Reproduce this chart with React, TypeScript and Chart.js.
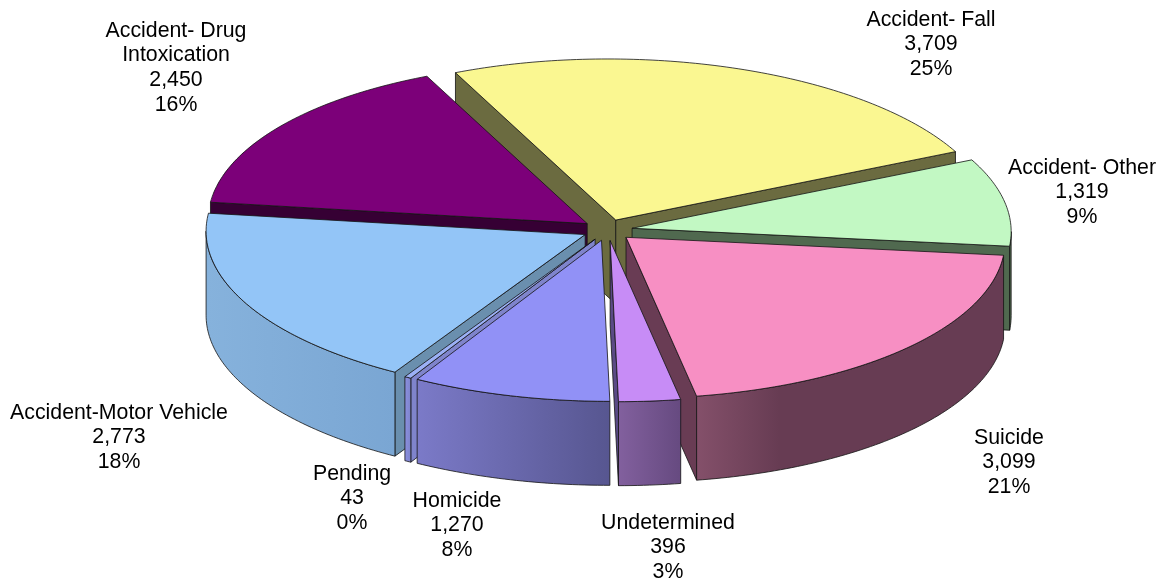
import React, { useEffect, useRef } from "react";
import { Chart, registerables } from "chart.js";

Chart.register(...registerables);

const categories = [
  "Accident- Fall",
  "Accident- Other",
  "Suicide",
  "Undetermined",
  "Homicide",
  "Pending",
  "Accident-Motor Vehicle",
  "Accident- Drug|Intoxication",
];
const values = [3709, 1319, 3099, 396, 1270, 43, 2773, 2450];
const valueLabels = ["3,709", "1,319", "3,099", "396", "1,270", "43", "2,773", "2,450"];
const percentLabels = ["25%", "9%", "21%", "3%", "8%", "0%", "18%", "16%"];

const topColors = ["#FAF791", "#C2F8C3", "#F78FC3", "#C78CF6", "#9191F6", "#9BB0F6", "#93C5F7", "#7C0079"];
const radialColors = ["#6B6B40", "#50694F", "#693C54", "#5A4A85", "#6C6FB0", "#7F84CC", "#6A8FAE", "#360034"];
const wallLeft = ["#8A8A50", "#50694F", "#84506A", "#82609E", "#7B7AC8", "#8A8FE0", "#86B2DC", "#500050"];
const wallRight = ["#6B6B40", "#50694F", "#673C53", "#664A80", "#575690", "#7F84CC", "#7AA6D3", "#360034"];
const wallStop = [1, 1, 0.27, 1, 1, 1, 1, 1];

const labelCenters = [
  [931, 20], [1082, 168], [1009, 438], [668, 523],
  [457, 501], [352, 474], [119, 413], [176, 31],
];

const CENTER_X = 607.5;
const CENTER_Y = 230;
const RADIUS = 379;
const SQUASH = 0.425;
const SHEAR = 0.05;
const DEPTH = 84;
const EXPLODE = 25;
const LINE = 24.6;
const paintOrder = [0, 7, 1, 6, 2, 5, 4, 3];

const pie3d = {
  id: "pie3d",
  beforeDatasetDraw(chart: any) {
    const ctx = chart.ctx as CanvasRenderingContext2D;
    const arcs = chart.getDatasetMeta(0).data;
    const twoPi = Math.PI * 2;
    const rimShift = Math.atan(SHEAR * SQUASH);
    for (const i of paintOrder) {
      const el = arcs[i];
      const k = RADIUS / el.outerRadius;
      const a = el.startAngle;
      const b = el.endAngle;
      const mid = (a + b) / 2;
      const oy = EXPLODE * Math.sin(mid) * SQUASH;
      const ax = CENTER_X + EXPLODE * Math.cos(mid) + SHEAR * oy;
      const ay = CENTER_Y + oy;
      const pt = (t: number): [number, number] => {
        const dy = RADIUS * Math.sin(t) * SQUASH;
        return [ax + RADIUS * Math.cos(t) + SHEAR * dy, ay + dy];
      };
      const stroke = () => {
        ctx.lineWidth = 1;
        ctx.strokeStyle = "rgba(20,20,20,0.8)";
        ctx.stroke();
      };
      const radial = (t: number) => {
        const [x, y] = pt(t);
        ctx.beginPath();
        ctx.moveTo(ax, ay);
        ctx.lineTo(x, y);
        ctx.lineTo(x, y + DEPTH);
        ctx.lineTo(ax, ay + DEPTH);
        ctx.closePath();
        ctx.fillStyle = radialColors[i];
        ctx.fill();
        stroke();
      };
      if (Math.cos(a) < 0) radial(a);
      if (Math.cos(b) > 0) radial(b);

      // outer wall: front half of the rim only
      for (let n = -1; n <= 1; n++) {
        const s = Math.max(a, n * twoPi + rimShift);
        const e = Math.min(b, n * twoPi + Math.PI + rimShift);
        if (e <= s) continue;
        const steps = Math.max(4, Math.ceil((e - s) * 60));
        const pts: [number, number][] = [];
        for (let j = 0; j <= steps; j++) pts.push(pt(s + ((e - s) * j) / steps));
        const xs = pts.map((p) => p[0]);
        const grad = ctx.createLinearGradient(Math.min(...xs), 0, Math.max(...xs), 0);
        grad.addColorStop(0, wallLeft[i]);
        grad.addColorStop(wallStop[i], wallRight[i]);
        ctx.beginPath();
        pts.forEach((p, j) => (j ? ctx.lineTo(p[0], p[1]) : ctx.moveTo(p[0], p[1])));
        for (let j = steps; j >= 0; j--) ctx.lineTo(pts[j][0], pts[j][1] + DEPTH);
        ctx.closePath();
        ctx.fillStyle = grad;
        ctx.fill();
        stroke();
      }

      // top face: the library's own arc element under a flattening transform
      const off = (el.options.offset || 0) / 4;
      ctx.save();
      ctx.translate(ax, ay);
      ctx.transform(1, 0, SHEAR, 1, 0, 0);
      ctx.scale(k, k * SQUASH);
      ctx.translate(-el.x - off * Math.cos(mid), -el.y - off * Math.sin(mid));
      el.draw(ctx);
      ctx.restore();

      // outline of the top face
      ctx.beginPath();
      ctx.moveTo(ax, ay);
      const steps = Math.max(4, Math.ceil((b - a) * 60));
      for (let j = 0; j <= steps; j++) {
        const p = pt(a + ((b - a) * j) / steps);
        ctx.lineTo(p[0], p[1]);
      }
      ctx.closePath();
      stroke();
    }
    return false;
  },
  afterDatasetsDraw(chart: any) {
    const ctx = chart.ctx as CanvasRenderingContext2D;
    ctx.save();
    ctx.font = "21.3px 'Liberation Sans', Arial, sans-serif";
    ctx.fillStyle = "#000";
    ctx.textAlign = "center";
    ctx.textBaseline = "middle";
    categories.forEach((c, i) => {
      const lines = [...c.split("|"), valueLabels[i], percentLabels[i]];
      lines.forEach((t, j) => ctx.fillText(t, labelCenters[i][0], labelCenters[i][1] + j * LINE));
    });
    ctx.restore();
  },
};

export default function App() {
  const ref = useRef<HTMLCanvasElement>(null);
  useEffect(() => {
    const chart = new Chart(ref.current!, {
      type: "pie",
      data: {
        labels: categories.map((c) => c.replace("|", " ")),
        datasets: [{ data: values, backgroundColor: topColors, borderWidth: 0, offset: 0 } as any],
      },
      options: {
        responsive: false,
        animation: false,
        rotation: -23.8,
        plugins: { legend: { display: false }, tooltip: { enabled: false } },
      },
      plugins: [pie3d],
    } as any);
    return () => chart.destroy();
  }, []);
  return (
    <div style={{ position: "absolute", left: 0, top: 0, width: 1162, height: 583, background: "#fff" }}>
      <canvas ref={ref} width={1162} height={583} style={{ display: "block" }} />
    </div>
  );
}
